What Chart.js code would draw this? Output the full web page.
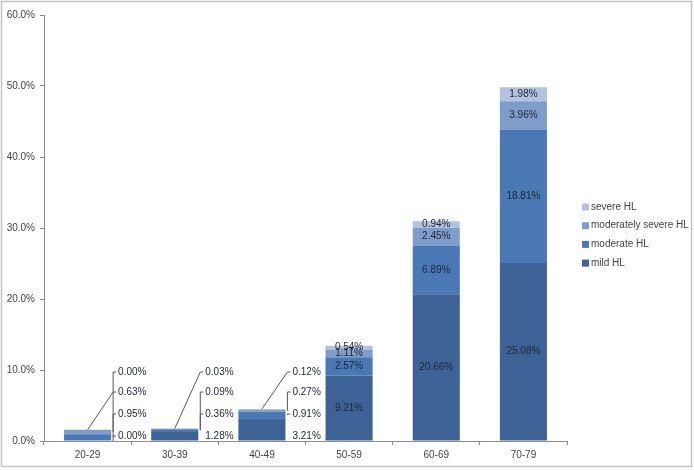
<!DOCTYPE html>
<html lang="en">
<head>
<meta charset="UTF-8">
<title>Hearing loss by age group</title>
<script src="https://cdn.jsdelivr.net/npm/chart.js"></script>
<style>
  body { margin: 0; background: #fff; }
  #wrap { width: 694px; height: 470px; }
</style>
</head>
<body>
<div id="wrap"><canvas id="myChart" width="694" height="470"></canvas></div>
<script>
// values (%) per age group
const ageGroups = ['20-29', '30-39', '40-49', '50-59', '60-69', '70-79'];
const mildHL = [0.00, 1.28, 3.21, 9.21, 20.66, 25.08];
const moderateHL = [0.95, 0.36, 0.91, 2.57, 6.89, 18.81];
const modSevereHL = [0.63, 0.09, 0.27, 1.11, 2.45, 3.96];
const severeHL = [0.00, 0.03, 0.12, 0.54, 0.94, 1.98];
const yMax = 60;
const yStep = 10;

const colors = ['#3d6295', '#4a78b5', '#7f9dcb', '#b2c2e0'];
const textColor = '#444444';
const labelColor = '#1d2734';

Chart.defaults.font.family = '"Liberation Sans", Arial, sans-serif';
Chart.defaults.font.size = 10;
Chart.defaults.color = textColor;

// grey frame round the whole picture
const framePlugin = {
    id: 'frame',
    afterDraw(chart) {
        const ctx = chart.ctx;
        ctx.save();
        ctx.strokeStyle = '#c4c4c4';
        ctx.lineWidth = 1.5;
        ctx.strokeRect(1.5, 1.5, chart.width - 4, chart.height - 5);
        ctx.restore();
    }
};

// value labels, inside tall bars, beside short ones with leader lines
const barLabels = {
    id: 'barLabels',
    afterDatasetsDraw(chart) {
        const ctx = chart.ctx;
        const bottom = chart.chartArea.bottom;
        const sideOffsets = [-5, -27, -49, -69];
        ctx.save();
        ctx.font = '10px "Liberation Sans", Arial, sans-serif';
        ctx.fillStyle = labelColor;
        ctx.textBaseline = 'middle';
        chart.data.labels.forEach((lab, j) => {
            const nSets = chart.data.datasets.length;
            const topBar = chart.getDatasetMeta(nSets - 1).data[j];
            const stackHeight = bottom - topBar.y;
            const outside = stackHeight < 40;
            chart.data.datasets.forEach((ds, i) => {
                const bar = chart.getDatasetMeta(i).data[j];
                const txt = ds.data[j].toFixed(2) + '%';
                if (!outside) {
                    ctx.textAlign = 'center';
                    ctx.fillText(txt, bar.x, (bar.y + bar.base) / 2);
                    return;
                }
                const xr = bar.x + bar.width / 2;
                const ly = bottom + sideOffsets[i];
                ctx.textAlign = 'left';
                ctx.fillText(txt, xr + 7, ly);
                ctx.strokeStyle = '#5a5a5a';
                ctx.lineWidth = 1;
                ctx.beginPath();
                if (i === nSets - 1) {
                    // an empty top segment bends at the label below it
                    const bend = ds.data[j] === 0 ? bottom + sideOffsets[i - 1] : ly;
                    ctx.moveTo(bar.x, topBar.y);
                    ctx.lineTo(xr + 2, bend);
                    ctx.lineTo(xr + 2, ly);
                    ctx.lineTo(xr + 5, ly);
                } else if (i > 0 || ds.data[j] === 0) {
                    const mid = (bar.y + bar.base) / 2;
                    ctx.moveTo(xr + 2, mid);
                    ctx.lineTo(xr + 2, ly);
                    ctx.lineTo(xr + 5, ly);
                }
                ctx.stroke();
            });
        });
        ctx.restore();
    }
};

// legend on the right, top item is the top of the stack
const sideLegend = {
    id: 'sideLegend',
    afterDraw(chart) {
        const ctx = chart.ctx;
        const items = chart.data.datasets.slice().reverse();
        ctx.save();
        ctx.font = '10px "Liberation Sans", Arial, sans-serif';
        ctx.textAlign = 'left';
        ctx.textBaseline = 'middle';
        items.forEach((ds, k) => {
            const y = 207 + k * 18.7;
            ctx.fillStyle = ds.backgroundColor;
            ctx.fillRect(582, y - 3.5, 7, 7);
            ctx.fillStyle = textColor;
            ctx.fillText(ds.label, 591, y);
        });
        ctx.restore();
    }
};

const ctx = document.getElementById('myChart').getContext('2d');
const chart = new Chart(ctx, {
    type: 'bar',
    data: {
        labels: ageGroups,
        datasets: [
            { label: 'mild HL', data: mildHL, backgroundColor: colors[0] },
            { label: 'moderate HL', data: moderateHL, backgroundColor: colors[1] },
            { label: 'moderately severe HL', data: modSevereHL, backgroundColor: colors[2] },
            { label: 'severe HL', data: severeHL, backgroundColor: colors[3] }
        ]
    },
    options: {
        responsive: false,
        animation: false,
        layout: { padding: { top: 15, right: 127, bottom: 0, left: 0 } },
        datasets: {
            bar: { categoryPercentage: 0.54, barPercentage: 1, borderWidth: 0 }
        },
        scales: {
            x: {
                stacked: true,
                grid: { drawOnChartArea: false, tickLength: 4, color: '#8c8c8c', offset: true },
                border: { color: '#8c8c8c' },
                ticks: { padding: 4, color: textColor },
                afterFit(axis) { axis.height = 29; }
            },
            y: {
                stacked: true,
                min: 0,
                max: yMax,
                grid: { drawOnChartArea: false, tickLength: 4, color: '#8c8c8c' },
                border: { color: '#8c8c8c' },
                ticks: {
                    stepSize: yStep,
                    padding: 5,
                    color: textColor,
                    callback: v => v.toFixed(1) + '%'
                },
                afterFit(axis) { axis.width = 44; }
            }
        },
        plugins: {
            legend: { display: false },
            tooltip: { enabled: false }
        }
    },
    plugins: [barLabels, sideLegend, framePlugin]
});
</script>
</body>
</html>
